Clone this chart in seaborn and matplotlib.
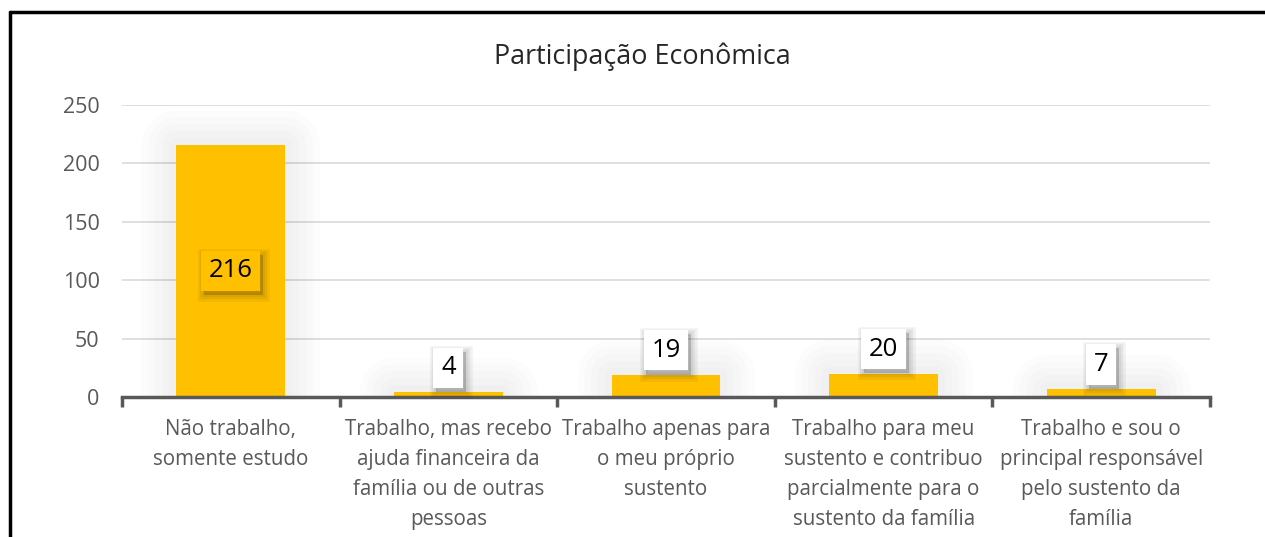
import matplotlib
matplotlib.use("Agg")
import matplotlib.pyplot as plt
import matplotlib.patheffects as pe
from matplotlib.lines import Line2D
import seaborn as sns
import pandas as pd

# data
categorias = [
    "Não trabalho,\nsomente estudo",
    "Trabalho, mas recebo\najuda financeira da\nfamília ou de outras\npessoas",
    "Trabalho apenas para\no meu próprio\nsustento",
    "Trabalho para meu\nsustento e contribuo\nparcialmente para o\nsustento da família",
    "Trabalho e sou o\nprincipal responsável\npelo sustento da\nfamília",
]
valores = [216, 4, 19, 20, 7]
yticks = [0, 50, 100, 150, 200, 250]

df = pd.DataFrame({"cat": categorias, "val": valores})

sns.set_style("white")
plt.rcParams["font.family"] = ["Open Sans", "DejaVu Sans"]

fig = plt.figure(figsize=(12.65, 5.37), dpi=100)
ax = fig.add_axes([0.0964, 0.2607, 0.8601, 0.5438])

sns.barplot(data=df, x="cat", y="val", color="#FFC000", saturation=1,
            width=0.5, linewidth=0, ax=ax, zorder=3)

# soft glow around the bars
glow = [pe.Stroke(linewidth=w, foreground="black", alpha=0.01, joinstyle="round")
        for w in (50, 40, 30, 20, 10)]
for bar in ax.patches:
    bar.set_path_effects(glow + [pe.Normal()])

ax.set_xlim(-0.5, len(categorias) - 0.5)
ax.set_ylim(0, 250)
ax.set_yticks(yticks)
ax.yaxis.grid(True, color="#D9D9D9", linewidth=1.2, zorder=0)
ax.set_axisbelow(True)
for s in ["top", "right", "left"]:
    ax.spines[s].set_visible(False)
ax.spines["bottom"].set_color("#595959")
ax.spines["bottom"].set_linewidth(2.5)
ax.spines["bottom"].set_zorder(5)

ax.set_xlabel("")
ax.set_ylabel("")
ax.tick_params(axis="x", which="major", length=0, pad=16, labelsize=14.8, labelcolor="#595959")
ax.tick_params(axis="y", length=0, pad=16, labelsize=15.5, labelcolor="#595959")
for lbl in ax.get_xticklabels():
    lbl.set_linespacing(1.55)
ax.set_xticks([i + 0.5 for i in range(-1, len(categorias))], minor=True)
ax.tick_params(axis="x", which="minor", bottom=True, length=7, width=2.5,
               color="#595959", direction="out")

# data labels in boxes with a soft shadow
box_shadow = [pe.Stroke(offset=(2, -3), linewidth=w, foreground="black", alpha=0.05)
              for w in (9, 6, 3)]
box_shadow += [pe.SimplePatchShadow(offset=(2, -3), shadow_rgbFace="#000000", alpha=0.18),
               pe.Normal()]
for i, v in enumerate(valores):
    y = v / 2 if v > 100 else v + 21
    t = ax.text(i, y, str(v), ha="center", va="center", fontsize=18.5, color="black",
                zorder=6,
                bbox=dict(boxstyle="square,pad=0.3",
                          facecolor="#FFC000" if v > 100 else "#FFFFFF",
                          edgecolor="none"))
    t.get_bbox_patch().set_path_effects(box_shadow)

fig.text(0.508, 0.895, "Participação Econômica", ha="center", va="center",
         fontsize=19.4, color="#262626")

# chart frame (left and top edges)
fig.add_artist(Line2D([0.008, 0.008], [0, 0.978], color="black", linewidth=2.5,
                      transform=fig.transFigure))
fig.add_artist(Line2D([0.008, 1.0], [0.978, 0.978], color="black", linewidth=2.5,
                      transform=fig.transFigure))

fig.savefig("out.png", dpi=100, facecolor="white")
